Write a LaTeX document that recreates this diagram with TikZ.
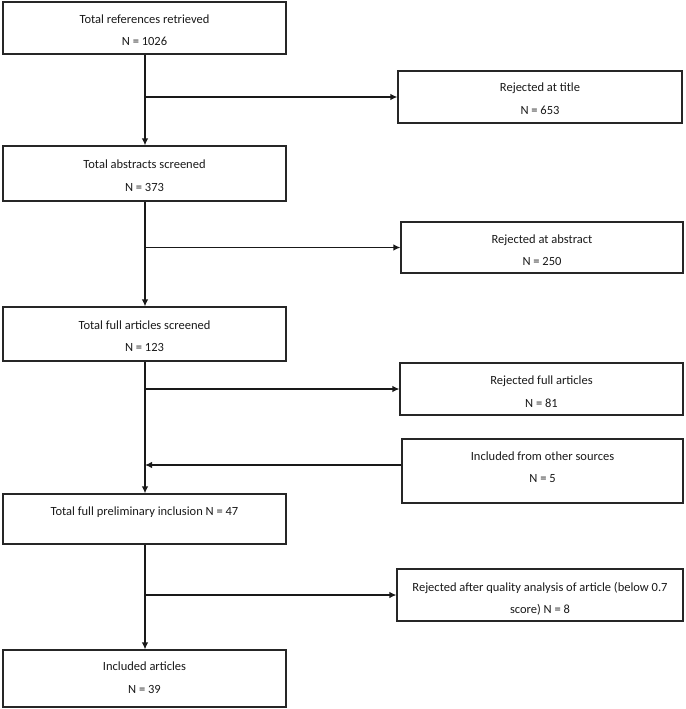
\documentclass[tikz,border=0pt]{standalone}
\usepackage{fontspec}
\setmainfont{Carlito}
\usetikzlibrary{arrows.meta}
\begin{document}
\begin{tikzpicture}[x=1pt,y=-1pt,
  box/.style={draw=black!85, line width=1.2pt, rectangle, inner sep=0pt},
  txt/.style={align=center, font=\fontsize{12.5}{22.5}\selectfont, inner sep=0pt, text=black!90},
  flow/.style={draw=black!90, line width=1.2pt, -{Latex[length=7pt,width=6.5pt]}}]
\useasboundingbox (0,0) rectangle (685,709);
% left column boxes
\node[box, minimum width=283pt, minimum height=52pt] (b1) at (144.5,28) {};
\node[box, minimum width=283pt, minimum height=55pt] (b2) at (144.5,173.5) {};
\node[box, minimum width=283pt, minimum height=54pt] (b3) at (144.5,334) {};
\node[box, minimum width=283pt, minimum height=50pt] (b4) at (144.5,519) {};
\node[box, minimum width=283pt, minimum height=57pt] (b5) at (144.5,678.5) {};
% right column boxes
\node[box, minimum width=284pt, minimum height=52pt] (r1) at (540,97) {};
\node[box, minimum width=282pt, minimum height=51pt] (r2) at (542,247.5) {};
\node[box, minimum width=283pt, minimum height=52pt] (r3) at (541.5,389) {};
\node[box, minimum width=281pt, minimum height=64pt] (r4) at (542.5,471) {};
\node[box, minimum width=286pt, minimum height=52pt] (r5) at (540,595) {};
% texts
\node[txt] (t1) at (144.5,30) {Total references retrieved\\N = 1026};
\node[txt] (t2) at (144.5,175.5) {Total abstracts screened\\N = 373};
\node[txt] (t3) at (144.5,336) {Total full articles screened\\N = 123};
\node[txt] (t4) at (144.5,512) {Total full preliminary inclusion N = 47};
\node[txt] (t5) at (144.5,677.5) {Included articles\\N = 39};
\node[txt] (s1) at (540,98.5) {Rejected at title\\N = 653};
\node[txt] (s2) at (542,250) {Rejected at abstract\\N = 250};
\node[txt] (s3) at (541.5,391.5) {Rejected full articles\\N = 81};
\node[txt] (s4) at (542.5,467) {Included from other sources\\N = 5};
\node[txt] (s5) at (540,599) {Rejected after quality analysis of article (below 0.7\\score) N = 8};
% branch points
\coordinate (c1) at (145,97);
\coordinate (c2) at (145,247.5);
\coordinate (c3) at (145,389);
\coordinate (c4) at (145,465);
\coordinate (c5) at (145,595);
% main flow
\draw[flow] (b1.south -| c1) -- (b2.north -| c1);
\draw[flow] (b2.south -| c1) -- (b3.north -| c1);
\draw[flow] (b3.south -| c1) -- (b4.north -| c1);
\draw[flow] (b4.south -| c1) -- (b5.north -| c1);
% side flows
\draw[flow] (c1) -- (r1.west);
\draw[flow] (c2) -- (r2.west);
\draw[flow] (c3) -- (r3.west);
\draw[flow] (r4.west |- c4) -- (c4);
\draw[flow] (c5) -- (r5.west);
\end{tikzpicture}
\end{document}
